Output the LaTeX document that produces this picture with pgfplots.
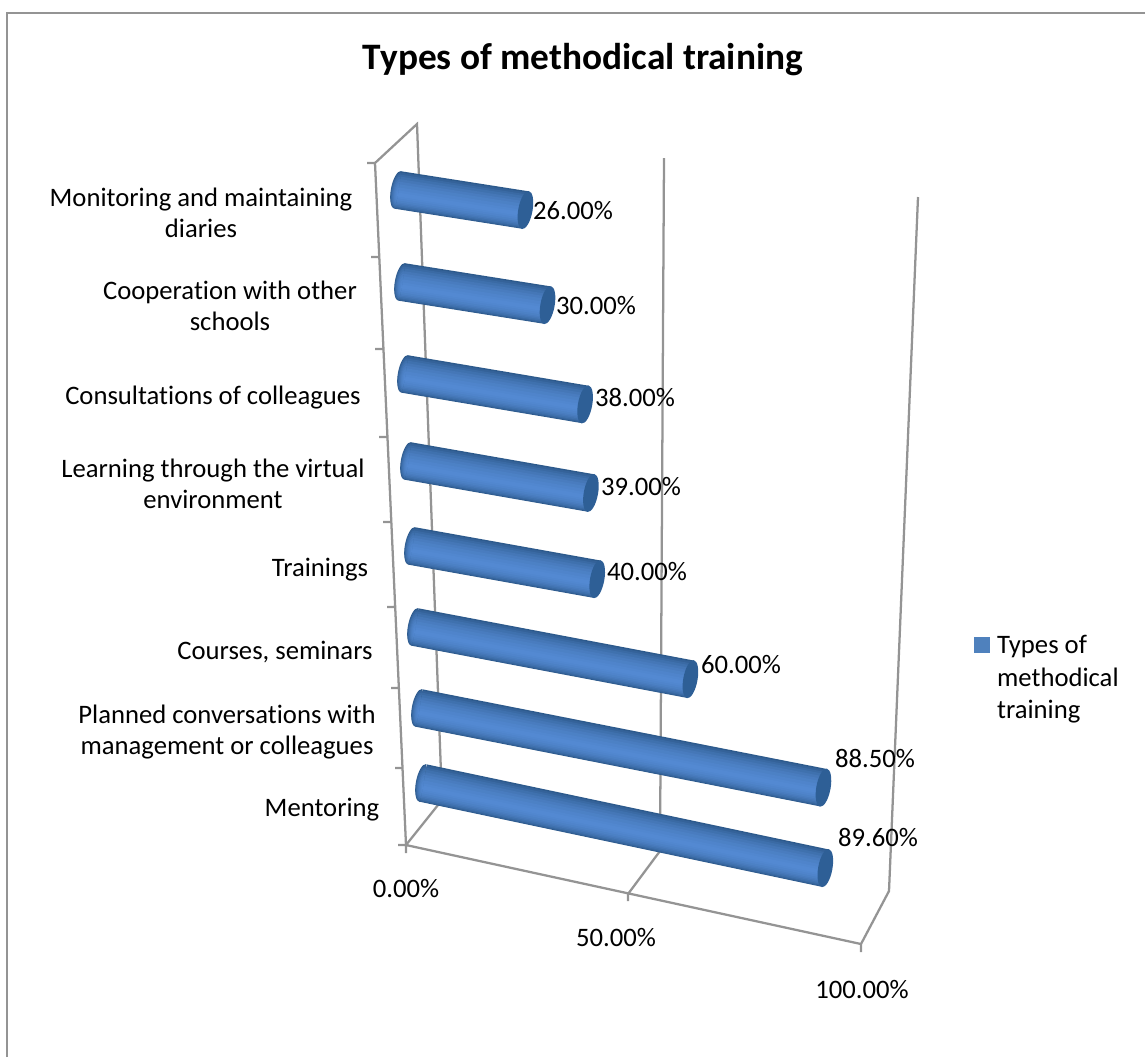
\documentclass[border=0pt]{standalone}
\usepackage{fontspec}
\setmainfont[Ligatures=NoCommon]{Carlito}
\usepackage{pgfplots}
\pgfplotsset{compat=1.18}

\definecolor{gridgray}{HTML}{949494}
\definecolor{edgeblue}{HTML}{2D5A8C}
\definecolor{lightblue}{HTML}{5389D2}
\definecolor{capblue}{HTML}{2E5F96}
\definecolor{keyblue}{HTML}{4F81BD}

% 1 pixel of the reference = 0.75pt
\def\lbl{\fontsize{20pt}{23.7pt}\selectfont}

\pgfdeclareplotmark{capface}{%
  \pgfpathellipse{\pgfpointorigin}%
    {\pgfpoint{0.37\pgfplotmarksize}{-0.063\pgfplotmarksize}}%
    {\pgfpoint{0.18\pgfplotmarksize}{\pgfplotmarksize}}%
  \pgfusepathqfill}
% left half only, so that the rounded start joins its layer without a seam
\def\ms#1#2{\pgfpoint{#1\pgfplotmarksize}{#2\pgfplotmarksize}}
\pgfdeclareplotmark{capstart}{%
  \pgfpathmoveto{\ms{0.18}{1}}%
  \pgfpathcurveto{\ms{-0.024}{1.035}}{\ms{-0.271}{0.615}}{\ms{-0.37}{0.063}}%
  \pgfpathcurveto{\ms{-0.469}{-0.489}}{\ms{-0.384}{-0.965}}{\ms{-0.18}{-1}}%
  \pgfpathclose
  \pgfusepathqfill}

% width (px), mix of the light colour, offset (px), value
\newcommand{\lay}[4]{\addplot[line width=#1*0.75pt, color=lightblue!#2!edgeblue, line cap=butt,
    mark=capstart, mark indices={1}, mark size=#1*0.375pt, mark options={solid}] coordinates {(0,#3) (#4,#3)};}

% value, start x, start y (px), px per percent across and down
\newcommand{\cylbar}[5]{%
\begin{axis}[
    hide axis, clip=false, anchor=origin,
    at={(#2*0.75pt,-#3*0.75pt)},
    x={(#4*0.75pt,-#5*0.75pt)}, y={(0pt,0.75pt)},
    xmin=0, xmax=100, ymin=-25, ymax=25,
]
\lay{38}{0}{0}{#1}
\lay{36}{18}{-0.4}{#1}
\lay{33}{34}{-0.9}{#1}
\lay{30}{48}{-1.4}{#1}
\lay{26}{62}{-2}{#1}
\lay{22}{73}{-2.6}{#1}
\lay{18}{82}{-3.2}{#1}
\lay{13}{90}{-3.8}{#1}
\lay{8}{96}{-4.3}{#1}
\lay{4}{100}{-4.6}{#1}
\addplot[only marks, mark=capface, mark size=14.25pt, color=capblue] coordinates {(#1,0)};
\end{axis}}

\begin{document}
\begin{tikzpicture}
\path[use as bounding box] (0,0) rectangle (1145*0.75pt,-1057*0.75pt);

% frame, walls, ticks and all text, in reference pixels
\begin{axis}[
    hide axis, clip=false, anchor=origin, at={(0pt,0pt)},
    x={(0.75pt,0pt)}, y={(0pt,-0.75pt)},
    xmin=0, xmax=1145, ymin=0, ymax=1057,
    unbounded coords=jump,
    legend style={at={(axis cs:970,632)}, anchor=north west, draw=none, fill=none,
      font=\lbl, row sep=5.3pt, inner sep=0pt, cells={anchor=west},
      /tikz/column 1/.style={column sep=4pt}},
]
\addlegendimage{only marks, mark=square*, mark size=5.6pt, color=keyblue}
\addlegendentry{Types of}
\addlegendimage{empty legend}
\addlegendentry{methodical}
\addlegendimage{empty legend}
\addlegendentry{training}

\addplot[forget plot, color=gridgray, line width=2pt, no markers] coordinates {(7,1057) (7,13) (1145,13)};
\addplot[forget plot, color=gridgray, line width=1.7pt, no markers] coordinates {
  (406,853) (406,845) (375,163) (417,124) (442,800) (406,845) (nan,nan)
  (406,845) (861,944) (889,891) (918,197) (nan,nan)
  (628,901) (628,894) (660,851) (664,158) (nan,nan)
  (861,952) (861,944) (nan,nan)
  (367,163) (375,163) (nan,nan)
  (371,257) (379,257) (nan,nan)
  (375,349) (383,349) (nan,nan)
  (379,437) (387,437) (nan,nan)
  (383,522) (391,522) (nan,nan)
  (387,607) (395,607) (nan,nan)
  (391,688) (399,688) (nan,nan)
  (395,768) (403,768) (nan,nan)
  (398,845) (406,845)
};

\tikzset{txt/.style={font=\lbl, inner sep=0pt, align=center, text=black}}
\node[font=\fontsize{28pt}{32pt}\selectfont\bfseries, inner sep=0pt] at (axis cs:583,60) {Types of methodical training};

\node[txt] at (axis cs:201,213) {Monitoring and maintaining\\diaries};
\node[txt] at (axis cs:230,306) {Cooperation with other\\schools};
\node[txt] at (axis cs:213,398) {Consultations of colleagues};
\node[txt] at (axis cs:213,484) {Learning through the virtual\\environment};
\node[txt] at (axis cs:320,570) {Trainings};
\node[txt] at (axis cs:275,652) {Courses, seminars};
\node[txt] at (axis cs:227,732) {Planned conversations with\\management or colleagues};
\node[txt] at (axis cs:322,810) {Mentoring};

\node[txt] at (axis cs:406,888) {0.00\%};
\node[txt] at (axis cs:616,937) {50.00\%};
\node[txt] at (axis cs:862,989) {100.00\%};

\node[txt] at (axis cs:573,210) {26.00\%};
\node[txt] at (axis cs:596,305) {30.00\%};
\node[txt] at (axis cs:635,397) {38.00\%};
\node[txt] at (axis cs:641,486) {39.00\%};
\node[txt] at (axis cs:647,571) {40.00\%};
\node[txt] at (axis cs:741,664) {60.00\%};
\node[txt] at (axis cs:875,758) {88.50\%};
\node[txt] at (axis cs:878,837) {89.60\%};
\end{axis}

\cylbar{26}{398}{190}{4.90}{0.77}
\cylbar{30}{402}{282}{4.85}{0.77}
\cylbar{38}{405}{374}{4.74}{0.80}
\cylbar{39}{408}{461}{4.69}{0.82}
\cylbar{40}{412}{546}{4.63}{0.83}
\cylbar{60}{415}{627}{4.59}{0.87}
\cylbar{88.5}{419}{708}{4.57}{0.90}
\cylbar{89.6}{423}{783}{4.49}{0.95}
\end{tikzpicture}
\end{document}
